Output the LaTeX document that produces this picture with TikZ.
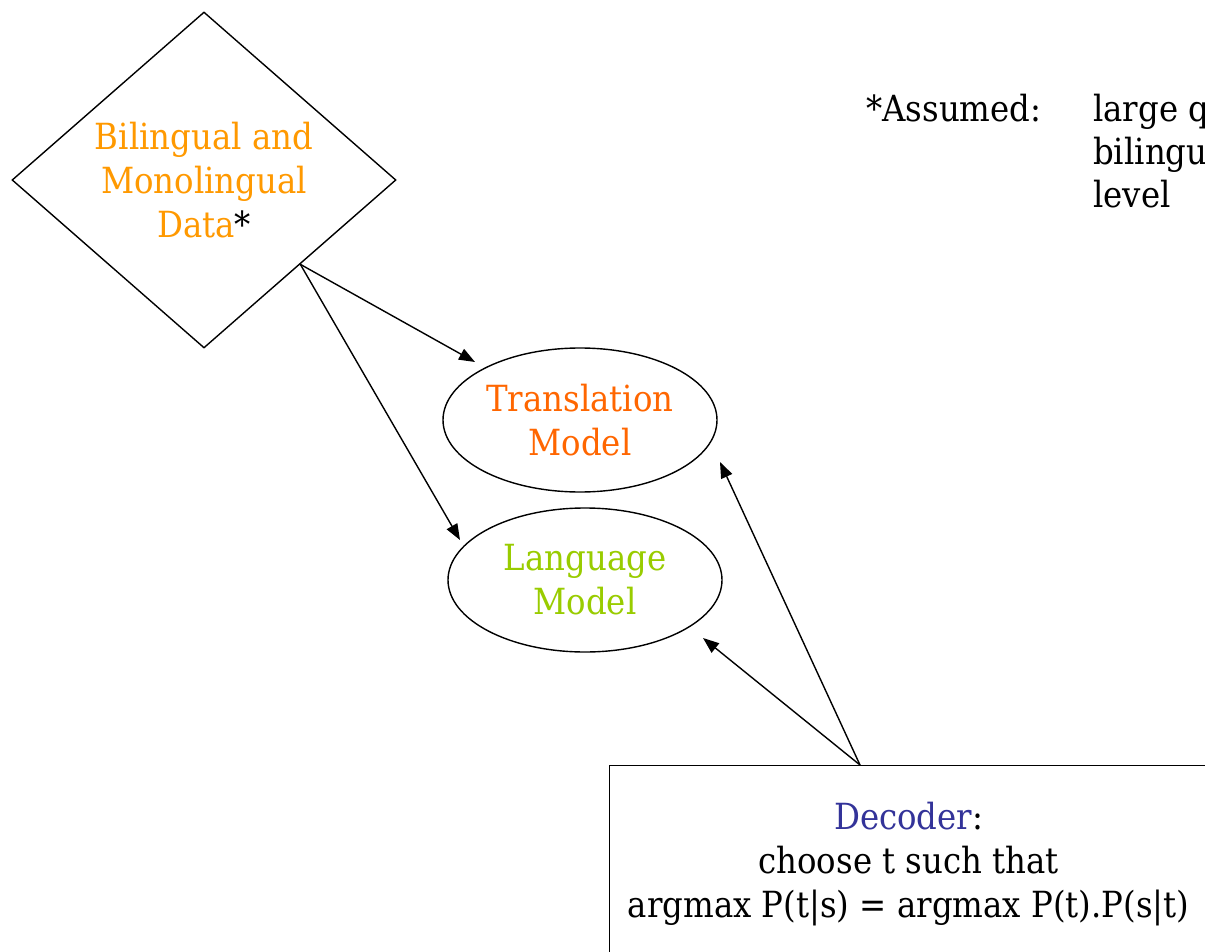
\documentclass[tikz,border=0pt]{standalone}
\usepackage{fontspec}
\setmainfont{DejaVu Serif}[FakeStretch=0.9]
\usetikzlibrary{shapes.geometric,arrows.meta,calc}
\definecolor{bilorange}{HTML}{FF9900}
\definecolor{tmorange}{HTML}{FF6600}
\definecolor{lmgreen}{HTML}{99CC00}
\definecolor{decblue}{HTML}{333399}
\tikzset{
  txt/.style={font=\fontsize{36}{44}\selectfont, align=center},
  outline/.style={draw=black, line width=1.4pt},
  arr/.style={line width=1.4pt, -{Triangle[length=16pt,width=12pt]}},
  plain/.style={font=\fontsize{36}{44}\selectfont, inner sep=0pt, anchor=base west}
}
\begin{document}
\begin{tikzpicture}[x=1pt,y=-1pt]
\useasboundingbox (0,0) rectangle (1205,952);
\clip (0,0) rectangle (1205,952);
\fill[white] (0,0) rectangle (1205,952);

\node[diamond, outline, txt, minimum width=384pt, minimum height=336pt, inner sep=0pt] (data) at (204,180)
  {\textcolor{bilorange}{Bilingual and}\\\textcolor{bilorange}{Monolingual}\\\textcolor{bilorange}{Data}*};

\node[ellipse, outline, txt, minimum width=274pt, minimum height=144pt, inner sep=0pt, text=tmorange] (tm) at (580,420)
  {Translation\\Model};

\node[ellipse, outline, txt, minimum width=274pt, minimum height=144pt, inner sep=0pt, text=lmgreen] (lm) at (585,580)
  {Language\\Model};

\node[rectangle, outline, txt, minimum width=598pt, minimum height=196pt, inner sep=0pt, anchor=north west] (dec) at (609,765)
  {\textcolor{decblue}{Decoder}:\\choose t such that\\argmax P(t|s) = argmax P(t).P(s|t)};

\coordinate (dtop) at ($(dec.north west)+(251,0)$);

\node[plain] (assumed) at (866,122) {*Assumed:};
\node[plain] (l1) at (1093,122) {large q};
\node[plain] (l2) at (1093,165) {bilingu};
\node[plain] (l3) at (1093,208) {level};

\draw[arr] (data.south east) -- ($(tm.center)+(-105,-58)$);
\draw[arr] (data.south east) -- ($(lm.center)+(-125,-40)$);
\draw[arr] (dtop) -- ($(tm.center)+(140,42)$);
\draw[arr] (dtop) -- ($(lm.center)+(118,58)$);
\end{tikzpicture}
\end{document}
